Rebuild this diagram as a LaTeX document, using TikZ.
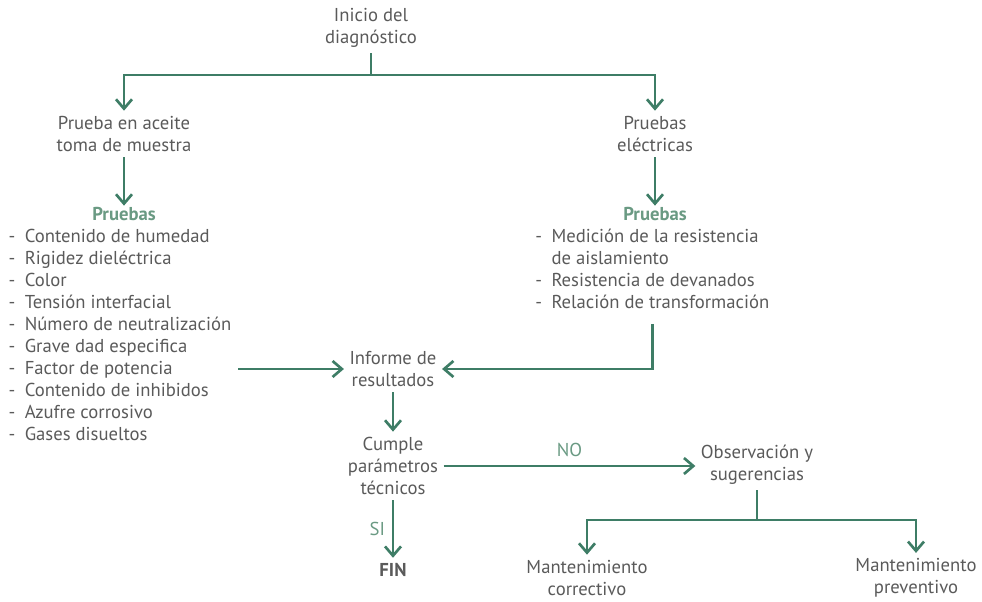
\documentclass[tikz,border=0pt]{standalone}
\usepackage{fontspec}
\setmainfont{PT Sans}
\usetikzlibrary{arrows.meta,positioning}
\definecolor{verde}{HTML}{3E7D66}
\definecolor{verdeclaro}{HTML}{6A9A83}
\definecolor{gris}{HTML}{5A5A5A}

\begin{document}
\begin{tikzpicture}[x=0.75pt,y=-0.75pt,
    every node/.style={text=gris, font=\fontsize{14}{16.5}\selectfont, align=center, inner sep=4pt},
    linea/.style={draw=verde, line width=2pt},
    flecha/.style={linea, -{Straight Barb[length=7pt,width=12pt]}},
    titulo/.style={text=verdeclaro, font=\fontsize{14}{16.5}\selectfont\bfseries, inner sep=1pt},
    lista/.style={align=left, inner sep=1pt},
    rotulo/.style={text=verdeclaro}]
  \useasboundingbox (0,0) rectangle (982,602);

  \node (inicio) at (371,28) {Inicio del\\diagnóstico};
  \coordinate (rama) at (371,75);
  \node (aceite) at (124,134) {Prueba en aceite\\toma de muestra};
  \node (electricas) at (655,134) {Pruebas\\eléctricas};

  \node[titulo] (pruebasA) at (124,214) {Pruebas};
  \node[lista, below=4pt of pruebasA, xshift=-3pt] (listaA) {-\hspace{7pt}Contenido de humedad\\
    -\hspace{7pt}Rigidez dieléctrica\\
    -\hspace{7pt}Color\\
    -\hspace{7pt}Tensión interfacial\\
    -\hspace{7pt}Número de neutralización\\
    -\hspace{7pt}Grave dad especifica\\
    -\hspace{7pt}Factor de potencia\\
    -\hspace{7pt}Contenido de inhibidos\\
    -\hspace{7pt}Azufre corrosivo\\
    -\hspace{7pt}Gases disueltos};
  \node[titulo] (pruebasB) at (655,214) {Pruebas};
  \node[lista, below=4pt of pruebasB, xshift=-2pt] (listaB) {-\hspace{7pt}Medición de la resistencia\\
    \phantom{-}\hspace{7pt}de aislamiento\\
    -\hspace{7pt}Resistencia de devanados\\
    -\hspace{7pt}Relación de transformación};

  \node (informe) at (393,369) {Informe de\\resultados};
  \node (cumple) at (393,466) {Cumple\\parámetros\\técnicos};
  \node[font=\fontsize{14}{16.5}\selectfont\bfseries] (fin) at (393,570) {FIN};
  \node (obs) at (757,465) {Observación y\\sugerencias};
  \coordinate (rama2) at (757,520);
  \node (correctivo) at (587,578) {Mantenimiento\\correctivo};
  \node (preventivo) at (916,578) {Mantenimiento\\preventivo};

  % conectores
  \draw[linea] (inicio) -- (rama);
  \draw[flecha] (rama) -| (aceite);
  \draw[flecha] (rama) -| (electricas);
  \draw[flecha] (aceite) -- (pruebasA);
  \draw[flecha] (electricas) -- (pruebasB);
  \draw[flecha] ([xshift=4pt]listaA.east |- informe) -- (informe);
  \draw[flecha] ([yshift=-10pt]listaB.south) |- (informe);
  \draw[flecha] (informe) -- (cumple);
  \draw[flecha] (cumple) -- node[rotulo, above=2pt] {NO} (cumple -| obs.west);
  \draw[flecha] (cumple) -- node[rotulo, left=1pt] {SI} (fin);
  \draw[linea] (obs) -- (rama2);
  \draw[flecha] (rama2) -| (correctivo);
  \draw[flecha] (rama2) -| (preventivo);
\end{tikzpicture}
\end{document}
